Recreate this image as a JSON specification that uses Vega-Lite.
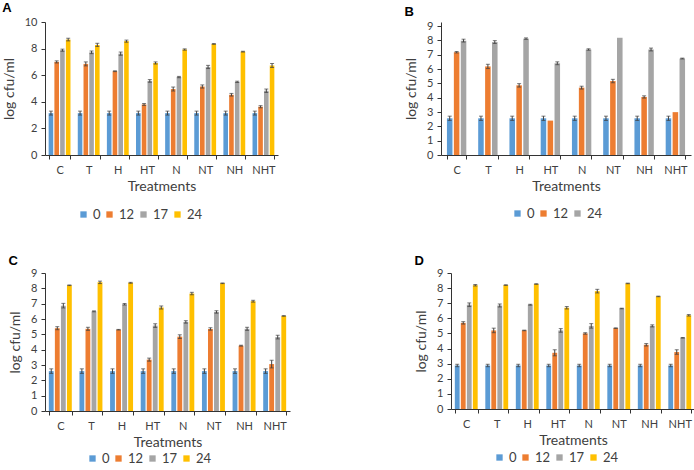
{
  "$schema": "https://vega.github.io/schema/vega-lite/v6.json",
  "padding": {"left": 2, "top": 2, "right": 0, "bottom": 0},
  "background": "white",
  "config": {
    "view": {"stroke": null},
    "font": "Lato",
    "axis": {"grid": false, "domainColor": "#333", "tickColor": "#333", "labelColor": "#404040", "titleColor": "#404040", "labelFont": "Lato", "titleFont": "Lato", "labelFontSize": 11, "titleFontSize": 14, "titleFontWeight": "normal", "tickSize": 4, "labelOverlap": false},
    "legend": {"labelFont": "Lato", "labelFontSize": 13, "labelColor": "#404040", "symbolType": "square", "symbolSize": 40, "symbolStrokeWidth": 0, "orient": "none", "direction": "horizontal", "title": null, "columnPadding": 2, "labelOffset": 3, "gridAlign": "none", "padding": 0},
    "title": {"font": "Liberation Sans", "fontSize": 13, "fontWeight": "bold", "anchor": "start", "frame": "bounds", "color": "#000", "offset": -1}
  },
  "datasets": {
    "A": [
      {"t":"C","h":"0","v":3.15,"lo":3.0,"hi":3.3},{"t":"C","h":"12","v":7.0,"lo":6.92,"hi":7.08},{"t":"C","h":"17","v":7.88,"lo":7.8,"hi":7.96},{"t":"C","h":"24","v":8.68,"lo":8.58,"hi":8.78},
      {"t":"T","h":"0","v":3.15,"lo":3.0,"hi":3.3},{"t":"T","h":"12","v":6.85,"lo":6.7,"hi":7.0},{"t":"T","h":"17","v":7.72,"lo":7.62,"hi":7.82},{"t":"T","h":"24","v":8.28,"lo":8.16,"hi":8.4},
      {"t":"H","h":"0","v":3.15,"lo":3.0,"hi":3.3},{"t":"H","h":"12","v":6.3,"lo":6.27,"hi":6.33},{"t":"H","h":"17","v":7.62,"lo":7.5,"hi":7.74},{"t":"H","h":"24","v":8.56,"lo":8.48,"hi":8.64},
      {"t":"HT","h":"0","v":3.15,"lo":3.0,"hi":3.3},{"t":"HT","h":"12","v":3.8,"lo":3.73,"hi":3.87},{"t":"HT","h":"17","v":5.57,"lo":5.47,"hi":5.67},{"t":"HT","h":"24","v":6.92,"lo":6.84,"hi":7.0},
      {"t":"N","h":"0","v":3.15,"lo":3.0,"hi":3.3},{"t":"N","h":"12","v":4.96,"lo":4.81,"hi":5.11},{"t":"N","h":"17","v":5.86,"lo":5.81,"hi":5.91},{"t":"N","h":"24","v":7.93,"lo":7.88,"hi":7.98},
      {"t":"NT","h":"0","v":3.15,"lo":3.0,"hi":3.3},{"t":"NT","h":"12","v":5.15,"lo":5.03,"hi":5.27},{"t":"NT","h":"17","v":6.62,"lo":6.5,"hi":6.74},{"t":"NT","h":"24","v":8.35,"lo":8.32,"hi":8.38},
      {"t":"NH","h":"0","v":3.15,"lo":3.0,"hi":3.3},{"t":"NH","h":"12","v":4.53,"lo":4.43,"hi":4.63},{"t":"NH","h":"17","v":5.5,"lo":5.45,"hi":5.55},{"t":"NH","h":"24","v":7.77,"lo":7.74,"hi":7.8},
      {"t":"NHT","h":"0","v":3.15,"lo":3.0,"hi":3.3},{"t":"NHT","h":"12","v":3.63,"lo":3.55,"hi":3.71},{"t":"NHT","h":"17","v":4.83,"lo":4.7,"hi":4.96},{"t":"NHT","h":"24","v":6.73,"lo":6.58,"hi":6.88}
    ],
    "B": [
      {"t":"C","h":"0","v":2.56,"lo":2.41,"hi":2.71},{"t":"C","h":"12","v":7.17,"lo":7.12,"hi":7.22},{"t":"C","h":"24","v":7.98,"lo":7.88,"hi":8.08},
      {"t":"T","h":"0","v":2.56,"lo":2.41,"hi":2.71},{"t":"T","h":"12","v":6.18,"lo":6.03,"hi":6.33},{"t":"T","h":"24","v":7.88,"lo":7.78,"hi":7.98},
      {"t":"H","h":"0","v":2.56,"lo":2.41,"hi":2.71},{"t":"H","h":"12","v":4.86,"lo":4.74,"hi":4.98},{"t":"H","h":"24","v":8.12,"lo":8.07,"hi":8.17},
      {"t":"HT","h":"0","v":2.56,"lo":2.41,"hi":2.71},{"t":"HT","h":"12","v":2.4},{"t":"HT","h":"24","v":6.4,"lo":6.3,"hi":6.5},
      {"t":"N","h":"0","v":2.56,"lo":2.41,"hi":2.71},{"t":"N","h":"12","v":4.7,"lo":4.6,"hi":4.8},{"t":"N","h":"24","v":7.36,"lo":7.31,"hi":7.41},
      {"t":"NT","h":"0","v":2.56,"lo":2.41,"hi":2.71},{"t":"NT","h":"12","v":5.16,"lo":5.04,"hi":5.28},{"t":"NT","h":"24","v":8.18},
      {"t":"NH","h":"0","v":2.56,"lo":2.41,"hi":2.71},{"t":"NH","h":"12","v":4.05,"lo":3.97,"hi":4.13},{"t":"NH","h":"24","v":7.36,"lo":7.26,"hi":7.46},
      {"t":"NHT","h":"0","v":2.56,"lo":2.41,"hi":2.71},{"t":"NHT","h":"12","v":2.99},{"t":"NHT","h":"24","v":6.73,"lo":6.7,"hi":6.76}
    ],
    "C": [
      {"t":"C","h":"0","v":2.6,"lo":2.45,"hi":2.75},{"t":"C","h":"12","v":5.4,"lo":5.3,"hi":5.5},{"t":"C","h":"17","v":6.87,"lo":6.72,"hi":7.02},{"t":"C","h":"24","v":8.2,"lo":8.18,"hi":8.22},
      {"t":"T","h":"0","v":2.6,"lo":2.45,"hi":2.75},{"t":"T","h":"12","v":5.36,"lo":5.26,"hi":5.46},{"t":"T","h":"17","v":6.5,"lo":6.47,"hi":6.53},{"t":"T","h":"24","v":8.39,"lo":8.31,"hi":8.47},
      {"t":"H","h":"0","v":2.6,"lo":2.45,"hi":2.75},{"t":"H","h":"12","v":5.3,"lo":5.28,"hi":5.32},{"t":"H","h":"17","v":6.96,"lo":6.91,"hi":7.01},{"t":"H","h":"24","v":8.36,"lo":8.33,"hi":8.39},
      {"t":"HT","h":"0","v":2.6,"lo":2.45,"hi":2.75},{"t":"HT","h":"12","v":3.35,"lo":3.25,"hi":3.45},{"t":"HT","h":"17","v":5.57,"lo":5.45,"hi":5.69},{"t":"HT","h":"24","v":6.75,"lo":6.65,"hi":6.85},
      {"t":"N","h":"0","v":2.6,"lo":2.45,"hi":2.75},{"t":"N","h":"12","v":4.85,"lo":4.73,"hi":4.97},{"t":"N","h":"17","v":5.81,"lo":5.73,"hi":5.89},{"t":"N","h":"24","v":7.66,"lo":7.58,"hi":7.74},
      {"t":"NT","h":"0","v":2.6,"lo":2.45,"hi":2.75},{"t":"NT","h":"12","v":5.35,"lo":5.27,"hi":5.43},{"t":"NT","h":"17","v":6.46,"lo":6.38,"hi":6.54},{"t":"NT","h":"24","v":8.33,"lo":8.31,"hi":8.35},
      {"t":"NH","h":"0","v":2.6,"lo":2.45,"hi":2.75},{"t":"NH","h":"12","v":4.26,"lo":4.23,"hi":4.29},{"t":"NH","h":"17","v":5.36,"lo":5.26,"hi":5.46},{"t":"NH","h":"24","v":7.16,"lo":7.1,"hi":7.22},
      {"t":"NHT","h":"0","v":2.6,"lo":2.45,"hi":2.75},{"t":"NHT","h":"12","v":3.06,"lo":2.81,"hi":3.31},{"t":"NHT","h":"17","v":4.82,"lo":4.7,"hi":4.94},{"t":"NHT","h":"24","v":6.2,"lo":6.18,"hi":6.22}
    ],
    "D": [
      {"t":"C","h":"0","v":2.88,"lo":2.8,"hi":2.96},{"t":"C","h":"12","v":5.7,"lo":5.62,"hi":5.78},{"t":"C","h":"17","v":6.9,"lo":6.78,"hi":7.02},{"t":"C","h":"24","v":8.19,"lo":8.14,"hi":8.24},
      {"t":"T","h":"0","v":2.88,"lo":2.8,"hi":2.96},{"t":"T","h":"12","v":5.2,"lo":5.05,"hi":5.35},{"t":"T","h":"17","v":6.85,"lo":6.75,"hi":6.95},{"t":"T","h":"24","v":8.2,"lo":8.18,"hi":8.22},
      {"t":"H","h":"0","v":2.88,"lo":2.8,"hi":2.96},{"t":"H","h":"12","v":5.2,"lo":5.18,"hi":5.22},{"t":"H","h":"17","v":6.9,"lo":6.87,"hi":6.93},{"t":"H","h":"24","v":8.27,"lo":8.25,"hi":8.29},
      {"t":"HT","h":"0","v":2.88,"lo":2.8,"hi":2.96},{"t":"HT","h":"12","v":3.72,"lo":3.52,"hi":3.92},{"t":"HT","h":"17","v":5.2,"lo":5.08,"hi":5.32},{"t":"HT","h":"24","v":6.7,"lo":6.62,"hi":6.78},
      {"t":"N","h":"0","v":2.88,"lo":2.8,"hi":2.96},{"t":"N","h":"12","v":5.0,"lo":4.95,"hi":5.05},{"t":"N","h":"17","v":5.5,"lo":5.35,"hi":5.65},{"t":"N","h":"24","v":7.8,"lo":7.68,"hi":7.92},
      {"t":"NT","h":"0","v":2.88,"lo":2.8,"hi":2.96},{"t":"NT","h":"12","v":5.35,"lo":5.33,"hi":5.37},{"t":"NT","h":"17","v":6.65,"lo":6.63,"hi":6.67},{"t":"NT","h":"24","v":8.31,"lo":8.29,"hi":8.33},
      {"t":"NH","h":"0","v":2.88,"lo":2.8,"hi":2.96},{"t":"NH","h":"12","v":4.25,"lo":4.17,"hi":4.33},{"t":"NH","h":"17","v":5.5,"lo":5.43,"hi":5.57},{"t":"NH","h":"24","v":7.45,"lo":7.43,"hi":7.47},
      {"t":"NHT","h":"0","v":2.88,"lo":2.8,"hi":2.96},{"t":"NHT","h":"12","v":3.77,"lo":3.62,"hi":3.92},{"t":"NHT","h":"17","v":4.71,"lo":4.69,"hi":4.73},{"t":"NHT","h":"24","v":6.2,"lo":6.15,"hi":6.25}
    ]
  },
  "vconcat": [
    {
      "hconcat": [
        {
          "title": {"text": "A", "offset": 1},
          "width": 233, "height": 133,
          "data": {"name": "A"},
          "encoding": {
            "x": {"field": "t", "type": "nominal", "sort": ["C","T","H","HT","N","NT","NH","NHT"], "title": "Treatments", "scale": {"paddingInner": 0.25, "paddingOuter": 0.125}, "axis": {"labelAngle": 0, "tickBand": "extent", "labelPadding": 5, "titlePadding": 4}},
            "xOffset": {"field": "h", "type": "nominal", "sort": ["0","12","17","24"], "scale": {"paddingInner": 0.2}}
          },
          "layer": [
            {"mark": {"type": "bar"}, "encoding": {"y": {"field": "v", "type": "quantitative", "title": "log cfu/ml", "scale": {"domain": [0, 10], "nice": false}, "axis": {"values": [0,2,4,6,8,10], "labelOverlap": false, "titlePadding": 8, "labelPadding": 4}}, "color": {"field": "h", "type": "nominal", "sort": ["0","12","17","24"], "scale": {"domain": ["0","12","17","24"], "range": ["#5B9BD5","#ED7D31","#A5A5A5","#FFC000"]}, "legend": {"legendX": 32, "legendY": 186}}}},
            {"mark": {"type": "rule", "color": "#404040", "strokeWidth": 1}, "encoding": {"y": {"field": "lo", "type": "quantitative", "axis": null}, "y2": {"field": "hi"}}},
            {"mark": {"type": "tick", "color": "#404040", "size": 4, "thickness": 1}, "encoding": {"y": {"field": "lo", "type": "quantitative", "axis": null}}},
            {"mark": {"type": "tick", "color": "#404040", "size": 4, "thickness": 1}, "encoding": {"y": {"field": "hi", "type": "quantitative", "axis": null}}}
          ],
          "resolve": {"axis": {"y": "independent"}}
        },
        {
          "title": {"text": "B", "offset": 1},
          "width": 250, "height": 133,
          "data": {"name": "B"},
          "encoding": {
            "x": {"field": "t", "type": "nominal", "sort": ["C","T","H","HT","N","NT","NH","NHT"], "title": "Treatments", "scale": {"paddingInner": 0.38, "paddingOuter": 0.19}, "axis": {"labelAngle": 0, "tickBand": "extent", "labelPadding": 5, "titlePadding": 4}},
            "xOffset": {"field": "h", "type": "nominal", "sort": ["0","12","24"], "scale": {"paddingInner": 0.2}}
          },
          "layer": [
            {"mark": {"type": "bar"}, "encoding": {"y": {"field": "v", "type": "quantitative", "title": "log cfu/ml", "scale": {"domain": [0, 9.28], "nice": false}, "axis": {"values": [0,1,2,3,4,5,6,7,8,9], "labelOverlap": false, "titlePadding": 8, "labelPadding": 4}}, "color": {"field": "h", "type": "nominal", "sort": ["0","12","24"], "scale": {"domain": ["0","12","24"], "range": ["#5B9BD5","#ED7D31","#A5A5A5"]}, "legend": {"legendX": 70, "legendY": 185}}}},
            {"mark": {"type": "rule", "color": "#404040", "strokeWidth": 1}, "encoding": {"y": {"field": "lo", "type": "quantitative", "axis": null}, "y2": {"field": "hi"}}},
            {"mark": {"type": "tick", "color": "#404040", "size": 4, "thickness": 1}, "encoding": {"y": {"field": "lo", "type": "quantitative", "axis": null}}},
            {"mark": {"type": "tick", "color": "#404040", "size": 4, "thickness": 1}, "encoding": {"y": {"field": "hi", "type": "quantitative", "axis": null}}}
          ],
          "resolve": {"axis": {"y": "independent"}}
        }
      ],
      "spacing": 126,
      "resolve": {"scale": {"color": "independent", "y": "independent", "x": "independent", "xOffset": "independent"}, "legend": {"color": "independent"}}
    },
    {
      "hconcat": [
        {
          "title": "C",
          "width": 245, "height": 138,
          "data": {"name": "C"},
          "encoding": {
            "x": {"field": "t", "type": "nominal", "sort": ["C","T","H","HT","N","NT","NH","NHT"], "title": "Treatments", "scale": {"paddingInner": 0.25, "paddingOuter": 0.125}, "axis": {"labelAngle": 0, "tickBand": "extent", "labelPadding": 5, "titlePadding": 4}},
            "xOffset": {"field": "h", "type": "nominal", "sort": ["0","12","17","24"], "scale": {"paddingInner": 0.2}}
          },
          "layer": [
            {"mark": {"type": "bar"}, "encoding": {"y": {"field": "v", "type": "quantitative", "title": "log cfu/ml", "scale": {"domain": [0, 9], "nice": false}, "axis": {"values": [0,1,2,3,4,5,6,7,8,9], "labelOverlap": false, "titlePadding": 8, "labelPadding": 4}}, "color": {"field": "h", "type": "nominal", "sort": ["0","12","17","24"], "scale": {"domain": ["0","12","17","24"], "range": ["#5B9BD5","#ED7D31","#A5A5A5","#FFC000"]}, "legend": {"legendX": 41, "legendY": 179}}}},
            {"mark": {"type": "rule", "color": "#404040", "strokeWidth": 1}, "encoding": {"y": {"field": "lo", "type": "quantitative", "axis": null}, "y2": {"field": "hi"}}},
            {"mark": {"type": "tick", "color": "#404040", "size": 4, "thickness": 1}, "encoding": {"y": {"field": "lo", "type": "quantitative", "axis": null}}},
            {"mark": {"type": "tick", "color": "#404040", "size": 4, "thickness": 1}, "encoding": {"y": {"field": "hi", "type": "quantitative", "axis": null}}}
          ],
          "resolve": {"axis": {"y": "independent"}}
        },
        {
          "title": "D",
          "width": 244, "height": 136,
          "data": {"name": "D"},
          "encoding": {
            "x": {"field": "t", "type": "nominal", "sort": ["C","T","H","HT","N","NT","NH","NHT"], "title": "Treatments", "scale": {"paddingInner": 0.25, "paddingOuter": 0.125}, "axis": {"labelAngle": 0, "tickBand": "extent", "labelPadding": 5, "titlePadding": 4}},
            "xOffset": {"field": "h", "type": "nominal", "sort": ["0","12","17","24"], "scale": {"paddingInner": 0.2}}
          },
          "layer": [
            {"mark": {"type": "bar"}, "encoding": {"y": {"field": "v", "type": "quantitative", "title": "log cfu/ml", "scale": {"domain": [0, 9], "nice": false}, "axis": {"values": [0,1,2,3,4,5,6,7,8,9], "labelOverlap": false, "titlePadding": 8, "labelPadding": 4}}, "color": {"field": "h", "type": "nominal", "sort": ["0","12","17","24"], "scale": {"domain": ["0","12","17","24"], "range": ["#5B9BD5","#ED7D31","#A5A5A5","#FFC000"]}, "legend": {"legendX": 42, "legendY": 178}}}},
            {"mark": {"type": "rule", "color": "#404040", "strokeWidth": 1}, "encoding": {"y": {"field": "lo", "type": "quantitative", "axis": null}, "y2": {"field": "hi"}}},
            {"mark": {"type": "tick", "color": "#404040", "size": 4, "thickness": 1}, "encoding": {"y": {"field": "lo", "type": "quantitative", "axis": null}}},
            {"mark": {"type": "tick", "color": "#404040", "size": 4, "thickness": 1}, "encoding": {"y": {"field": "hi", "type": "quantitative", "axis": null}}}
          ],
          "resolve": {"axis": {"y": "independent"}}
        }
      ],
      "spacing": 124,
      "resolve": {"scale": {"color": "independent", "y": "independent", "x": "independent", "xOffset": "independent"}, "legend": {"color": "independent"}}
    }
  ],
  "spacing": 33,
  "resolve": {"scale": {"color": "independent", "y": "independent", "x": "independent", "xOffset": "independent"}, "legend": {"color": "independent"}}
}
